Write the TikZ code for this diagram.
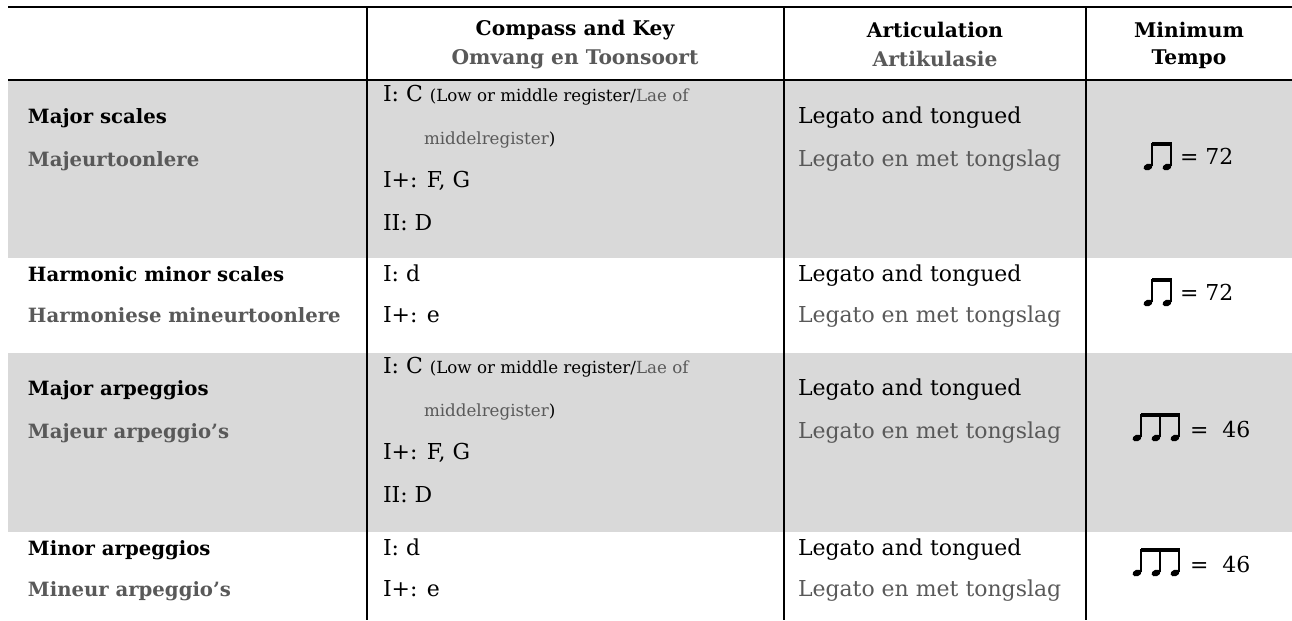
\documentclass[tikz,border=0pt]{standalone}
\usepackage{fontspec}
\setmainfont{DejaVu Serif}
\definecolor{cellgray}{HTML}{D9D9D9}
\definecolor{afrgray}{HTML}{595959}

\begin{document}
\begin{tikzpicture}[x=0.02cm,y=-0.02cm]
	\tikzstyle{every node}=[inner sep=0pt,outer sep=0pt];
	\tikzstyle{rule}=[line width=1.1pt];
	\tikzstyle{head}=[font=\fontsize{11.5}{14}\selectfont\bfseries];
	\tikzstyle{lbl}=[anchor=mid west,font=\fontsize{11.2}{14}\selectfont\bfseries];
	\tikzstyle{cell}=[anchor=mid west,font=\fontsize{12.5}{15}\selectfont];
	\tikzstyle{small}=[anchor=mid west,font=\fontsize{9.5}{12}\selectfont];
	\tikzstyle{tempo}=[anchor=mid west,font=\fontsize{12.5}{15}\selectfont];
	\tikzstyle{nhead}=[fill=black];

	\useasboundingbox (0,0) rectangle (1292,620);

	% shaded rows
	\fill[cellgray] (8,80) rectangle (1292,258);
	\fill[cellgray] (8,353) rectangle (1292,532);

	% rules
	\draw[rule] (8,7) -- (1292,7);
	\draw[rule] (8,80) -- (1292,80);
	\draw[rule] (367,7) -- (367,620);
	\draw[rule] (784,7) -- (784,620);
	\draw[rule] (1086,7) -- (1086,620);

	% header
	\node at (575,30) (hcomp) [head] {Compass and Key};
	\node at (575,59) (hcompaf) [head,text=afrgray] {Omvang en Toonsoort};
	\node at (935,30) (hart) [head] {Articulation};
	\node at (935,59) (hartaf) [head,text=afrgray] {Artikulasie};
	\node at (1189,30) (hmin) [head] {Minimum};
	\node at (1189,59) (htempo) [head] {Tempo};

	% row 1
	\node at (28,119) (majsc) [lbl] {Major scales};
	\node at (28,162) (majsca) [lbl,text=afrgray] {Majeurtoonlere};
	\node at (383,97) (majsc1) [cell] {I: C {\fontsize{9.5}{12}\selectfont(Low or middle register/\textcolor{afrgray}{Lae of}}};
	\node at (424,140) (majsc2) [small] {\textcolor{afrgray}{middelregister})};
	\node at (383,183) (majsc3) [cell] {I+: F, G};
	\node at (383,226) (majsc4) [cell] {II: D};
	\node at (798,119) (majscl) [cell] {Legato and tongued};
	\node at (798,162) (majscla) [cell,text=afrgray] {Legato en met tongslag};
	\node at (1180,160) (majsct) [tempo] {= 72};

	% row 2
	\node at (28,277) (harm) [lbl] {Harmonic minor scales};
	\node at (28,318) (harma) [lbl,text=afrgray] {Harmoniese mineurtoonlere};
	\node at (383,277) (harm1) [cell] {I: d};
	\node at (383,318) (harm2) [cell] {I+: e};
	\node at (798,277) (harml) [cell] {Legato and tongued};
	\node at (798,318) (harmla) [cell,text=afrgray] {Legato en met tongslag};
	\node at (1180,296) (harmt) [tempo] {= 72};

	% row 3
	\node at (28,391) (majar) [lbl] {Major arpeggios};
	\node at (28,434) (majara) [lbl,text=afrgray] {Majeur arpeggio's};
	\node at (383,369) (majar1) [cell] {I: C {\fontsize{9.5}{12}\selectfont(Low or middle register/\textcolor{afrgray}{Lae of}}};
	\node at (424,412) (majar2) [small] {\textcolor{afrgray}{middelregister})};
	\node at (383,455) (majar3) [cell] {I+: F, G};
	\node at (383,498) (majar4) [cell] {II: D};
	\node at (798,391) (majarl) [cell] {Legato and tongued};
	\node at (798,434) (majarla) [cell,text=afrgray] {Legato en met tongslag};
	\node at (1190,433) (majart) [tempo] {=\ \ 46};

	% row 4
	\node at (28,551) (minar) [lbl] {Minor arpeggios};
	\node at (28,592) (minara) [lbl,text=afrgray] {Mineur arpeggio's};
	\node at (383,551) (minar1) [cell] {I: d};
	\node at (383,592) (minar2) [cell] {I+: e};
	\node at (798,551) (minarl) [cell] {Legato and tongued};
	\node at (798,592) (minarla) [cell,text=afrgray] {Legato en met tongslag};
	\node at (1190,568) (minart) [tempo] {=\ \ 46};

	% beamed notes
	\foreach \y in {167,303} {
		\foreach \x in {1148,1167}
			\fill[nhead,shift={(\x,\y)},rotate=20] (0,0) ellipse (4.6 and 3.2);
		\foreach \x in {1152,1171}
			\draw[line width=0.6pt] (\x,\y-1) -- (\x,\y-24);
		\fill (1151.5,\y-25) rectangle (1171.6,\y-21);
	}
	\foreach \y in {438,573} {
		\foreach \x in {1137,1156,1175}
			\fill[nhead,shift={(\x,\y)},rotate=20] (0,0) ellipse (4.6 and 3.2);
		\foreach \x in {1141,1160,1179}
			\draw[line width=0.6pt] (\x,\y-1) -- (\x,\y-24);
		\fill (1140.5,\y-25) rectangle (1179.6,\y-21);
	}
\end{tikzpicture}
\end{document}
